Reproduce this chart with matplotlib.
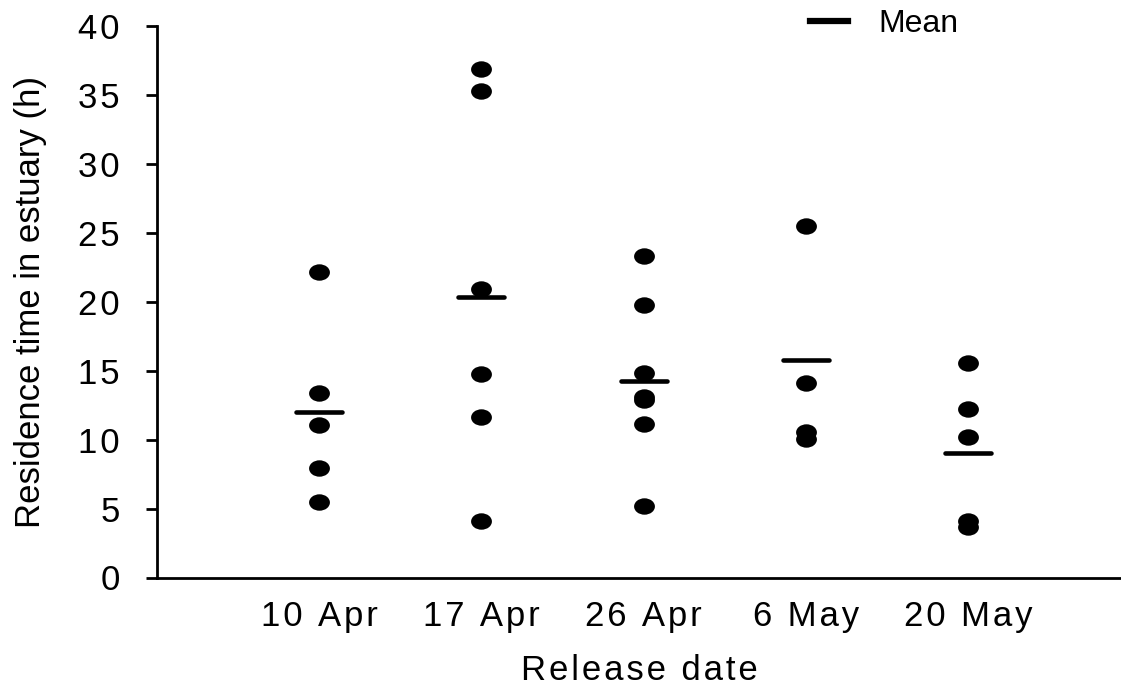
import matplotlib
matplotlib.use("Agg")
import matplotlib.pyplot as plt
from matplotlib.path import Path
from matplotlib.transforms import Affine2D
from matplotlib.lines import Line2D

plt.rcParams['font.family'] = ['Liberation Sans', 'DejaVu Sans']

# ---- data ----
categories = ["10 Apr", "17 Apr", "26 Apr", "6 May", "20 May"]
apr10 = [22.17, 13.40, 11.06, 7.96, 5.50]
apr17 = [36.87, 35.26, 20.92, 14.76, 11.62, 4.10]
apr26 = [23.31, 19.78, 14.81, 13.07, 12.85, 11.13, 5.18]
may6 = [25.51, 14.13, 10.53, 10.07]
may20 = [15.53, 12.20, 10.17, 4.07, 3.66]
means = [11.98, 20.34, 14.25, 15.80, 9.00]
yticks = [0, 5, 10, 15, 20, 25, 30, 35, 40]

groups = [apr10, apr17, apr26, may6, may20]

SP = "\u200a"


def spaced(s):
    return SP.join(list(s))


fig = plt.figure(figsize=(11.21, 6.93), dpi=100)
ax = fig.add_axes([157 / 1121, 115.5 / 693, 1 - 157 / 1121, 551.5 / 693])

ellipse = Path.unit_circle().transformed(Affine2D().scale(1.27, 1.0))

xs = list(range(1, len(categories) + 1))
for x, vals in zip(xs, groups):
    ax.scatter([x] * len(vals), vals, s=225, marker=ellipse,
               color='black', linewidths=0, zorder=3)

half = 0.142
lc = ax.hlines(means, [x - half for x in xs], [x + half for x in xs],
               colors='black', linewidth=3.3, zorder=4)
lc.set_capstyle('round')

ax.set_xlim(0, 5.943)
ax.set_ylim(0, 40)
ax.set_xticks(xs)
ax.set_xticklabels([spaced(c) for c in categories])
ax.set_yticks(yticks)
ax.set_yticklabels([spaced(str(t)) for t in yticks])

for side in ['top', 'right']:
    ax.spines[side].set_visible(False)
for side in ['left', 'bottom']:
    ax.spines[side].set_linewidth(2.0)
    ax.spines[side].set_color('black')

ax.tick_params(axis='y', direction='out', length=8, width=2.0,
               labelsize=25, pad=19)
ax.tick_params(axis='x', length=0, labelsize=25, pad=16.5)

ax.set_ylabel("Residence time in estuary (h)", fontsize=25, labelpad=22)
ax.set_xlabel(spaced("Release date"), fontsize=25, labelpad=14.5)

handle = Line2D([], [], color='black', linewidth=4.5)
fig.legend([handle], ["Mean"], loc='center left',
           bbox_to_anchor=(810 / 1121, 1 - 24 / 693),
           bbox_transform=fig.transFigure, frameon=False,
           fontsize=23, handlelength=1.2, handletextpad=0.95,
           borderpad=0, borderaxespad=0)

fig.savefig("out.png", dpi=100)
